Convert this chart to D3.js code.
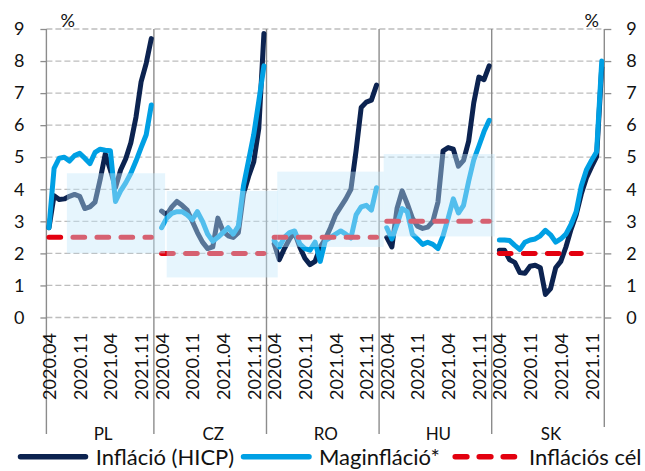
<!DOCTYPE html>
<html>
<head>
<meta charset="utf-8">
<script src="https://cdn.jsdelivr.net/npm/d3@7"></script>
<style>
  body { margin: 0; background: #fff; }
  svg { display: block; }
  text { font-family: Lato, "Open Sans", "DejaVu Sans", sans-serif; fill: #111; }
</style>
</head>
<body>
<svg id="chart" width="645" height="471"></svg>
<script>
// ---- data -------------------------------------------------------------
const countries = ["PL", "CZ", "RO", "HU", "SK"];

// Headline inflation (HICP), % y/y, monthly points per country
const hicpPL = [2.8, 3.8, 3.68, 3.7, 3.78, 3.84, 3.78, 3.4, 3.45, 3.6, 4.3, 5.1, 4.6, 4.05, 4.6, 4.95, 5.45, 6.25, 7.35, 7.93, 8.7];
const hicpCZ = [3.32, 3.2, 3.45, 3.62, 3.5, 3.35, 3.0, 2.65, 2.35, 2.15, 2.2, 3.1, 2.7, 2.55, 2.5, 2.65, 3.85, 4.4, 4.85, 5.9, 8.86];
const hicpRO = [2.3, 1.8, 2.15, 2.45, 2.65, 2.2, 1.85, 1.65, 1.75, 2.2, 2.45, 2.8, 3.2, 3.45, 3.7, 4.0, 5.2, 6.55, 6.72, 6.78, 7.25];
const hicpHU = [2.5, 2.2, 3.4, 3.95, 3.55, 3.1, 2.85, 2.78, 2.82, 3.0, 3.6, 5.2, 5.3, 5.25, 4.72, 4.9, 5.5, 6.7, 7.5, 7.42, 7.85];
const hicpSK = [2.1, 2.1, 1.8, 1.72, 1.4, 1.38, 1.6, 1.63, 1.55, 0.72, 0.9, 1.55, 1.75, 2.2, 2.75, 3.2, 3.85, 4.35, 4.7, 5.02, 7.8];

// Core inflation (Maginfláció), % y/y
const corePL = [2.8, 4.65, 4.97, 5.0, 4.88, 5.05, 5.12, 4.97, 4.8, 5.15, 5.25, 5.22, 5.2, 3.62, 3.95, 4.2, 4.5, 4.88, 5.3, 5.7, 6.63];
const coreCZ = [2.8, 3.1, 3.25, 3.3, 3.3, 3.2, 3.05, 3.3, 3.0, 2.6, 2.38, 2.5, 2.65, 2.8, 2.6, 2.85, 4.1, 4.9, 5.7, 6.75, 7.85];
const coreRO = [2.4, 2.2, 2.5, 2.65, 2.7, 2.3, 2.15, 2.1, 2.35, 1.75, 2.4, 2.5, 2.6, 2.7, 2.6, 2.48, 3.2, 3.45, 3.5, 3.35, 4.05];
const coreHU = [2.8, 2.45, 2.9, 3.4, 3.3, 2.6, 2.45, 2.28, 2.35, 2.28, 2.15, 2.55, 3.1, 3.7, 3.26, 3.5, 4.25, 4.92, 5.35, 5.8, 6.15];
const coreSK = [2.42, 2.42, 2.4, 2.25, 2.12, 2.35, 2.42, 2.45, 2.55, 2.72, 2.58, 2.35, 2.45, 2.6, 2.9, 3.3, 4.1, 4.6, 4.9, 5.17, 8.0];

// Inflation targets and how many months each target line covers
const targetValue = [2.5, 2.0, 2.5, 3.0, 2.0];
const targetMonths = [21, 21, 21, 21, 17];

// Tolerance bands: value range and extent along the category axis
const bandLow  = [2.0, 1.25, 2.2, 2.53];
const bandHigh = [4.5, 3.95, 4.55, 5.1];
const bandFrom = [4.0, 23.5, 45.1, 65.9];
const bandTo   = [23.2, 45.2, 65.9, 87.6];

// Category tick labels inside each country block
const tickLabels = ["2020.04", "2020.11", "2021.04", "2021.11"];
const tickIndex  = [0, 6, 12, 18];

const yTicks = d3.range(0, 10);

const hicp = [hicpPL, hicpCZ, hicpRO, hicpHU, hicpSK];
const core = [corePL, coreCZ, coreRO, coreHU, coreSK];

// ---- layout -----------------------------------------------------------
const BLOCK = 22;                      // categories per country incl. separator
const TOTAL = BLOCK * countries.length - 1;
const colors = { hicp: "#0c2350", core: "#00a0e4", target: "#e3000f", band: "rgba(195,232,250,0.42)", axis: "#8c8c8c", grid: "#bdbdbd" };

const svg = d3.select("#chart");
const x = d3.scaleLinear().domain([0, TOTAL]).range([46.4, 604.3]);
const y = d3.scaleLinear().domain([0, 9]).range([317.5, 29]);
const slotX = s => x(s + 0.5);
const plotL = x(0), plotR = x(TOTAL);

// gridlines
svg.append("g").selectAll("line").data(yTicks).join("line")
  .attr("x1", plotL).attr("x2", plotR)
  .attr("y1", d => y(d)).attr("y2", d => y(d))
  .attr("stroke", colors.grid).attr("stroke-width", 1.3)
  .attr("stroke-dasharray", "6,3");

// left and right value axes through d3 axis generators
const leftAxis = svg.append("g").attr("transform", `translate(${plotL},0)`)
  .call(d3.axisLeft(y).tickValues(yTicks).tickSize(6).tickPadding(16).tickFormat(d3.format("d")));
const rightAxis = svg.append("g").attr("transform", `translate(${plotR},0)`)
  .call(d3.axisRight(y).tickValues(yTicks).tickSize(7).tickPadding(15).tickFormat(d3.format("d")));
[leftAxis, rightAxis].forEach(g => {
  g.select(".domain").remove();
  g.selectAll(".tick line").attr("stroke", colors.axis).attr("stroke-width", 1.3);
  g.selectAll(".tick text").attr("font-size", 18).attr("fill", "#111")
    .attr("font-family", "Lato, 'Open Sans', sans-serif");
});

// vertical axis lines and country separators
const separators = [
  { x: plotL, y2: 434 },
  ...d3.range(1, countries.length).map(c => ({ x: x(c * BLOCK - 1), y2: 434 })),
  { x: plotR, y2: 427 }
];
svg.append("g").selectAll("line").data(separators).join("line")
  .attr("x1", d => d.x).attr("x2", d => d.x)
  .attr("y1", y(9)).attr("y2", d => d.y2)
  .attr("stroke", colors.axis).attr("stroke-width", 1.4);

// series lines
const line = d3.line().x(d => slotX(d.s)).y(d => y(d.v)).defined(d => d.v != null);
const toPoints = (arr, c) => arr.map((v, k) => ({ s: c * BLOCK + k, v }));

const gLines = svg.append("g").attr("fill", "none").attr("stroke-linejoin", "round").attr("stroke-linecap", "round");
countries.forEach((name, c) => {
  gLines.append("path").attr("d", line(toPoints(hicp[c], c)))
    .attr("stroke", colors.hicp).attr("stroke-width", 5);
});
countries.forEach((name, c) => {
  gLines.append("path").attr("d", line(toPoints(core[c], c)))
    .attr("stroke", colors.core).attr("stroke-width", 5);
});
countries.forEach((name, c) => {
  const pts = d3.range(targetMonths[c]).map(k => ({ s: c * BLOCK + k, v: targetValue[c] }));
  gLines.append("path").attr("d", line(pts))
    .attr("stroke", colors.target).attr("stroke-width", 5)
    .attr("stroke-dasharray", "11.7,12.3");
});

// tolerance bands over the lines
svg.append("g").selectAll("rect").data(bandLow).join("rect")
  .attr("x", (d, i) => x(bandFrom[i]))
  .attr("width", (d, i) => x(bandTo[i]) - x(bandFrom[i]))
  .attr("y", (d, i) => y(bandHigh[i]))
  .attr("height", (d, i) => y(bandLow[i]) - y(bandHigh[i]))
  .attr("fill", colors.band);

// category tick labels
const gTicks = svg.append("g");
countries.forEach((name, c) => {
  tickLabels.forEach((lab, j) => {
    const cx = slotX(c * BLOCK + tickIndex[j]);
    gTicks.append("text")
      .attr("transform", `translate(${cx},333) rotate(-90)`)
      .attr("text-anchor", "end").attr("dominant-baseline", "central")
      .attr("font-size", 18).text(lab);
  });
});

// country labels centred on their block
svg.append("g").selectAll("text").data(countries).join("text")
  .attr("x", (d, c) => x(c === 0 ? 10.5 : c * BLOCK + 10) + 3)
  .attr("y", 433).attr("text-anchor", "middle").attr("dominant-baseline", "central")
  .attr("font-size", 17).text(d => d);

// unit labels
svg.append("text").attr("x", 67.7).attr("y", 20).attr("text-anchor", "middle")
  .attr("dominant-baseline", "central").attr("font-size", 18).text("%");
svg.append("text").attr("x", 591.7).attr("y", 20).attr("text-anchor", "middle")
  .attr("dominant-baseline", "central").attr("font-size", 18).text("%");

// legend
const legendY = 456.7;
const legendItems = [
  { label: "Infláció (HICP)", color: colors.hicp, x1: 20.5, x2: 85.5, tx: 95.7, dash: null },
  { label: "Maginfláció*", color: colors.core, x1: 243.5, x2: 309, tx: 319, dash: null },
  { label: "Inflációs cél", color: colors.target, x1: 455.2, x2: 514.5, tx: 529, dash: "11.7,12.3" }
];
const gLeg = svg.append("g");
legendItems.forEach(it => {
  gLeg.append("line").attr("x1", it.x1).attr("x2", it.x2).attr("y1", legendY).attr("y2", legendY)
    .attr("stroke", it.color).attr("stroke-width", 5.5).attr("stroke-linecap", "round")
    .attr("stroke-dasharray", it.dash);
  gLeg.append("text").attr("x", it.tx).attr("y", legendY).attr("dominant-baseline", "central")
    .attr("font-size", 22).text(it.label);
});
</script>
</body>
</html>
